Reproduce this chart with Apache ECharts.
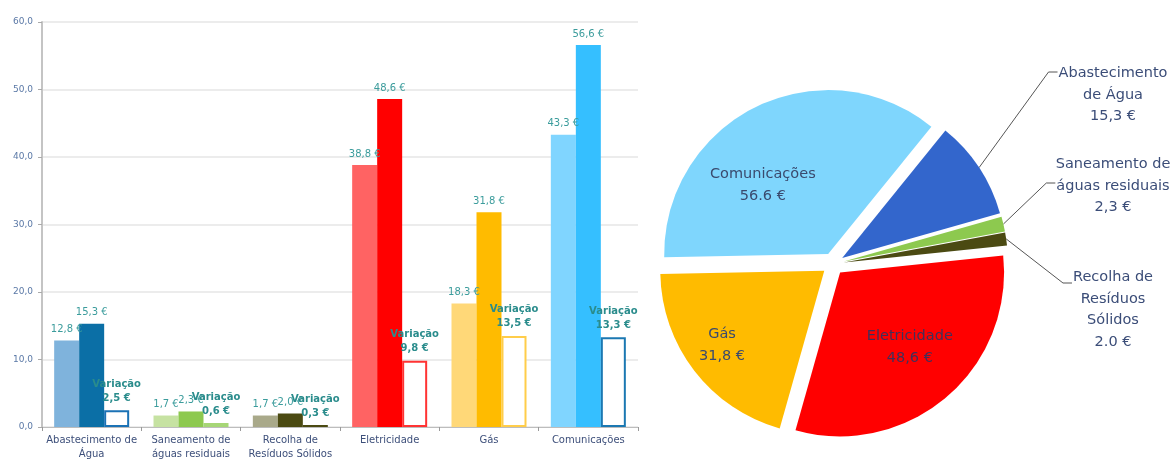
<!DOCTYPE html>
<html>
<head>
<meta charset="utf-8">
<script src="https://cdn.jsdelivr.net/npm/echarts@6/dist/echarts.min.js"></script>
<style>
  html, body { margin: 0; padding: 0; background: #fff; }
  #chart { width: 1174px; height: 463px; }
</style>
</head>
<body>
<div id="chart"></div>
<script>
// Monthly household service costs (€): previous value, current value and the difference
const categories = ['Abastecimento de\nÁgua', 'Saneamento de\náguas residuais', 'Recolha de\nResíduos Sólidos', 'Eletricidade', 'Gás', 'Comunicações'];
const previousValues = [12.8, 1.7, 1.7, 38.8, 18.3, 43.3];
const currentValues = [15.3, 2.3, 2.0, 48.6, 31.8, 56.6];
const variationValues = [2.5, 0.6, 0.3, 9.8, 13.5, 13.3];
const yTicks = [0, 10, 20, 30, 40, 50, 60];

// Per-category colours: light (previous), strong (current), outline (variation)
const lightColors = ['#7fb3dc', '#c6e2a2', '#a9a98a', '#ff6363', '#ffd878', '#80d5ff'];
const strongColors = ['#0b6fa6', '#8dc94f', '#4b4a12', '#ff0000', '#ffbb00', '#35bfff'];
const outlineColors = ['#1b72b5', '#a6d676', '#4b4a12', '#ff3333', '#ffcd4a', '#1b78b2'];

// Pie slices (current values), ordered clockwise from the blue slice
const pieNames = ['Abastecimento de Água', 'Saneamento de águas residuais', 'Recolha de Resíduos Sólidos', 'Eletricidade', 'Gás', 'Comunicações'];
const pieLabelLines = [['Abastecimento', 'de Água'], ['Saneamento de', 'águas residuais'], ['Recolha de', 'Resíduos', 'Sólidos'], ['Eletricidade'], ['Gás'], ['Comunicações']];
const pieValueTexts = ['15,3 €', '2,3 €', '2.0 €', '48,6 €', '31,8 €', '56.6 €'];
const pieValues = [15.3, 2.3, 2.0, 48.6, 31.8, 56.6];
const pieColors = ['#3366cc', '#8dc94f', '#4b4a12', '#ff0000', '#ffbb00', '#7fd6fd'];
const pieInside = [false, false, false, true, true, true];

const FONT = 'DejaVu Sans';
const PIE_FONT_SIZE = 14.5;
const PIE_START = 51;
const PIE_OFFSET = 11;
const fmt = v => v.toFixed(1).replace('.', ',');

// Layout of the callout labels at the right of the pie
const CALLOUT_X = 1113;              // centre of the callout text column
const CALLOUT_LINE_H = 21.5;
const calloutFirstLineY = [72, 163, 276]; // centre of each block's first text line
const calloutLeaderY = [72, 183, 283];    // height where each leader meets its text
const calloutLeaderLine = [0, 1, 0];      // which text line the leader meets
// Small nudges of the inside labels away from the default half-radius spot
const insideNudge = { 'Eletricidade': [15, 10], 'Gás': [-35, 23], 'Comunicações': [-28, 7] };

const measureCtx = document.createElement('canvas').getContext('2d');
measureCtx.font = PIE_FONT_SIZE + 'px "' + FONT + '"';

// Outward shift of each exploded slice (labels and leaders move with their slice)
const pieTotal = pieValues.reduce((a, b) => a + b, 0);
const sliceShift = [];
pieValues.reduce((acc, v) => {
  const mid = (PIE_START - (acc + v / 2) / pieTotal * 360) * Math.PI / 180;
  sliceShift.push([PIE_OFFSET * Math.cos(mid), -PIE_OFFSET * Math.sin(mid)]);
  return acc + v;
}, 0);

const chart = echarts.init(document.getElementById('chart'), null, { renderer: 'canvas' });

function barSeries(name, values, colors, outline) {
  return {
    name: name,
    type: 'bar',
    barWidth: 25,
    barGap: '0%',
    animation: false,
    data: values.map((v, i) => ({
      value: v,
      itemStyle: outline
        ? { color: '#ffffff', borderColor: colors[i], borderWidth: 2 }
        : { color: colors[i] }
    })),
    label: {
      show: true,
      position: 'top',
      distance: outline ? 5 : 4,
      fontFamily: FONT,
      fontSize: 10,
      fontWeight: outline ? 'bold' : 'normal',
      lineHeight: 14,
      color: outline ? '#2a8c8c' : '#3b9c9c',
      formatter: p => outline ? 'Variação\n' + fmt(p.value) + ' €' : fmt(p.value) + ' €'
    }
  };
}

const pieData = pieValues.map((v, i) => {
  const lines = pieLabelLines[i].concat([pieValueTexts[i]]);
  const item = { name: pieNames[i], value: v, selected: true, itemStyle: { color: pieColors[i] } };
  if (pieInside[i]) {
    item.label = {
      position: 'inside',
      formatter: lines.join('\n'),
      color: i === 3 ? '#40305a' : '#3a4a6e',
      fontFamily: FONT,
      fontSize: PIE_FONT_SIZE,
      lineHeight: 22
    };
    item.labelLine = { show: false };
  } else {
    item.label = {
      position: 'outside',
      formatter: lines.map(s => '{t|' + s + '}').join('\n'),
      rich: { t: { width: 124, align: 'center', fontFamily: FONT, fontSize: PIE_FONT_SIZE, lineHeight: CALLOUT_LINE_H, color: '#3b4d78' } }
    };
    item.labelLine = { show: true, length: 20, length2: 10, lineStyle: { color: '#555', width: 1 } };
  }
  return item;
});

function pieLabelLayout(params) {
  if (params.seriesIndex !== 3) return {};
  const i = params.dataIndex;
  const name = pieNames[i];
  if (pieInside[i]) {
    const n = insideNudge[name] || [0, 0];
    return { dx: n[0], dy: n[1] };
  }
  const lines = pieLabelLines[i].concat([pieValueTexts[i]]);
  const r = params.labelRect;
  const s = sliceShift[i];
  const k = calloutLeaderLine[i];
  const lineY = calloutLeaderY[i] - s[1];
  const w = measureCtx.measureText(lines[k]).width;
  const endX = CALLOUT_X - w / 2 - 1 - s[0];
  const start = params.labelLinePoints ? params.labelLinePoints[0] : [endX - 60, lineY];
  return {
    dx: CALLOUT_X - (r.x + r.width / 2) - s[0],
    dy: calloutFirstLineY[i] - 6 - r.y - s[1],
    labelLinePoints: [start, [endX - 9, lineY], [endX, lineY]]
  };
}

chart.setOption({
  animation: false,
  textStyle: { fontFamily: FONT },
  grid: { left: 42, right: 536, top: 22, bottom: 36, containLabel: false },
  xAxis: {
    type: 'category',
    data: categories,
    axisLine: { lineStyle: { color: '#bdbdbd', width: 1 } },
    axisTick: { show: true, length: 4, lineStyle: { color: '#9a9a9a' } },
    axisLabel: { fontFamily: FONT, fontSize: 10, color: '#3d4f7a', lineHeight: 14, margin: 6, interval: 0 }
  },
  yAxis: {
    type: 'value',
    min: yTicks[0],
    max: yTicks[yTicks.length - 1],
    interval: yTicks[1] - yTicks[0],
    axisLine: { show: true, lineStyle: { color: '#c4c4c4', width: 2 } },
    axisTick: { show: true, length: 4, lineStyle: { color: '#aaa' } },
    splitLine: { lineStyle: { color: '#e6e6e6', width: 1.5 } },
    axisLabel: { fontFamily: FONT, fontSize: 9, color: '#5a78a6', margin: 9, formatter: v => fmt(v) }
  },
  series: [
    barSeries('Anterior', previousValues, lightColors, false),
    barSeries('Atual', currentValues, strongColors, false),
    barSeries('Variação', variationValues, outlineColors, true),
    {
      type: 'pie',
      center: [833, 264],
      radius: [0, 164],
      startAngle: PIE_START,
      clockwise: true,
      selectedMode: 'multiple',
      selectedOffset: PIE_OFFSET,
      avoidLabelOverlap: false,
      animation: false,
      emphasis: { disabled: true },
      select: { itemStyle: {} },
      labelLayout: pieLabelLayout,
      data: pieData
    }
  ]
});
</script>
</body>
</html>
